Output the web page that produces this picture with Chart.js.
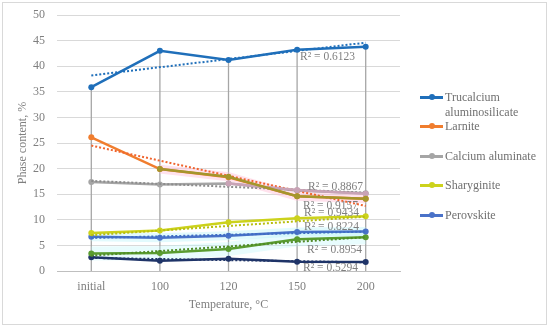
<!DOCTYPE html>
<html lang="en">

<head>
    <meta charset="UTF-8">
    <title>Phase content</title>
    <script src="https://cdn.jsdelivr.net/npm/chart.js@4.4.1/dist/chart.umd.min.js"></script>
    <style>
        body { margin: 0; background: #fff; }
        .quadro {
            position: relative;
            width: 550px;
            height: 328px;
            font-family: "Liberation Serif", serif;
        }
        .moldura {
            position: absolute;
            left: 2px; top: 2px;
            width: 543px; height: 321px;
            border: 1px solid #d9d9d9;
        }
        #grafico { position: absolute; left: 0; top: 0; }
        .legenda { position: absolute; left: 420px; top: 0; }
        .item {
            position: absolute;
            left: 0;
            width: 125px;
            display: flex;
            align-items: flex-start;
            font-size: 12px;
            line-height: 14.5px;
            color: #707070;
        }
        .marca {
            position: relative;
            flex: none;
            width: 23px; height: 14.5px;
            margin-right: 2px;
        }
        .marca .risco { position: absolute; left: 0; top: 6px; width: 23px; height: 2.5px; }
        .marca .ponto { position: absolute; left: 8.5px; top: 4px; width: 6px; height: 6px; border-radius: 50%; }
    </style>
</head>

<body>
    <div class="quadro">
        <div class="moldura"></div>
        <canvas id="grafico" width="550" height="328"></canvas>
        <div class="legenda" id="legenda"></div>
    </div>

<script>
    // valores
    const categorias = ['initial', '100', '120', '150', '200'];

    const trucalcium = [35.9, 43.0, 41.2, 43.2, 43.8];
    const larnite = [26.1, 19.9, 18.3, 14.6, 14.1];
    const calcioAluminato = [17.4, 16.9, 17.1, 15.7, 15.2];
    const sharyginite = [7.4, 7.9, 9.5, 10.3, 10.7];
    const perovskite = [6.7, 6.5, 6.9, 7.6, 7.7];
    const verde = [3.4, 3.5, 4.3, 6.2, 6.6];
    const azulEscuro = [2.7, 2.0, 2.4, 1.8, 1.75];

    // series sem legenda que ficam por cima da laranja e da cinza
    const oliva = [null, 19.9, 18.4, 14.6, 14.1];
    const rosa = [null, null, 17.1, 15.8, 15.1];

    // linhas de tendencia: valor no inicio e no fim
    const tendenciaInicio = [38.2, 24.5, 17.6, 7.0, 6.45, 3.0, 2.55];
    const tendenciaFim = [44.6, 12.7, 15.3, 10.6, 7.7, 6.6, 1.7];

    const r2Textos = ['R² = 0.6123', 'R² = 0.8867', 'R² = 0.9157', 'R² = 0.9434', 'R² = 0.8224', 'R² = 0.8954', 'R² = 0.5294'];
    const r2Altura = [41.8, 16.4, 12.7, 11.3, 8.6, 4.1, 0.6];
    const r2Desvio = [3, 11, 6, 7, 7, 10, 6];

    const eixoY = { min: 0, max: 50, passo: 5 };

    const series = [
        { nome: 'Trucalcium aluminosilicate', dados: trucalcium, cor: '#1F6FBA', legenda: true },
        { nome: 'Larnite', dados: larnite, cor: '#F07D2E', legenda: true },
        { nome: 'Calcium aluminate', dados: calcioAluminato, cor: '#A5A5A5', legenda: true },
        { nome: 'Sharyginite', dados: sharyginite, cor: '#CCD21C', legenda: true },
        { nome: 'Perovskite', dados: perovskite, cor: '#4A72C8', legenda: true },
        { nome: '', dados: verde, cor: '#5A9C30', legenda: false },
        { nome: '', dados: azulEscuro, cor: '#1F3468', legenda: false }
    ];
    const coresTendencia = ['#1F6FBA', '#F0642E', '#8C8C8C', '#B8BE10', '#3E6DC4', '#4F8A26', '#1F3468'];

    var datasets = [];

    // brilho suave (efeito do excel)
    datasets.push({ data: oliva, borderColor: 'rgba(255,190,215,0.45)', borderWidth: 9, pointRadius: 0, order: 30 });
    datasets.push({ data: perovskite, borderColor: 'rgba(190,245,250,0.45)', borderWidth: 9, pointRadius: 0, order: 30 });
    datasets.push({ data: verde, borderColor: 'rgba(190,245,250,0.35)', borderWidth: 14, pointRadius: 0, order: 30 });

    series.forEach((s, i) => {
        datasets.push({
            label: s.nome,
            data: s.dados,
            borderColor: s.cor,
            backgroundColor: s.cor,
            borderWidth: 2.5,
            pointRadius: 3,
            pointBorderWidth: 0,
            order: 10 + i
        });
        var tendencia = categorias.map(() => null);
        tendencia[0] = tendenciaInicio[i];
        tendencia[categorias.length - 1] = tendenciaFim[i];
        datasets.push({
            data: tendencia,
            borderColor: coresTendencia[i],
            borderWidth: 2,
            borderDash: [2, 2],
            pointRadius: 0,
            spanGaps: true,
            order: 5
        });
    });

    datasets.push({ data: oliva, borderColor: '#A4962C', backgroundColor: '#A4962C', borderWidth: 2.5, pointRadius: 3, pointBorderWidth: 0, order: 1 });
    datasets.push({ data: rosa, borderColor: '#C9A3B6', backgroundColor: '#C9A3B6', borderWidth: 2.5, pointRadius: 3, pointBorderWidth: 0, order: 2 });

    // linhas verticais do ponto mais alto ate o eixo
    const linhasQueda = {
        id: 'linhasQueda',
        beforeDatasetsDraw(chart) {
            const { ctx, scales: { x, y } } = chart;
            ctx.save();
            ctx.strokeStyle = '#A6A6A6';
            ctx.lineWidth = 1.3;
            categorias.forEach((c, i) => {
                const topo = Math.max(...series.map(s => s.dados[i]));
                const px = x.getPixelForValue(i);
                ctx.beginPath();
                ctx.moveTo(px, y.getPixelForValue(topo));
                ctx.lineTo(px, y.getPixelForValue(0));
                ctx.stroke();
            });
            ctx.restore();
        }
    };

    const rotulosR2 = {
        id: 'rotulosR2',
        afterDatasetsDraw(chart) {
            const { ctx, scales: { x, y } } = chart;
            ctx.save();
            ctx.font = '11.5px "Liberation Serif"';
            ctx.fillStyle = '#7F7F7F';
            ctx.textBaseline = 'middle';
            r2Textos.forEach((t, i) => {
                ctx.fillText(t, x.getPixelForValue(3) + r2Desvio[i], y.getPixelForValue(r2Altura[i]));
            });
            ctx.restore();
        }
    };

    var grafico = new Chart(document.getElementById('grafico'), {
        type: 'line',
        data: { labels: categorias, datasets: datasets },
        plugins: [linhasQueda, rotulosR2],
        options: {
            responsive: false,
            animation: false,
            layout: { padding: { left: 2, top: 15, right: 150, bottom: 15 } },
            plugins: { legend: { display: false }, tooltip: { enabled: false } },
            elements: { line: { tension: 0 } },
            scales: {
                x: {
                    offset: true,
                    grid: { display: false, drawTicks: false },
                    border: { display: true, color: '#BFBFBF', width: 1 },
                    ticks: { color: '#7F7F7F', font: { family: 'Liberation Serif', size: 12 }, padding: 9 },
                    title: { display: true, text: 'Temperature, °C', color: '#7F7F7F', font: { family: 'Liberation Serif', size: 12 }, padding: { top: 0, bottom: 1 } },
                    afterFit(scale) { scale.height = 42; }
                },
                y: {
                    min: eixoY.min,
                    max: eixoY.max,
                    grid: { color: '#D9D9D9', drawTicks: false },
                    border: { display: false },
                    ticks: { stepSize: eixoY.passo, color: '#7F7F7F', font: { family: 'Liberation Serif', size: 12 }, padding: 12 },
                    title: { display: true, text: 'Phase content, %', color: '#7F7F7F', font: { family: 'Liberation Serif', size: 12 }, padding: { top: 14, bottom: 0 } },
                    afterFit(scale) {
                        scale.width = 55;
                        scale.paddingTop = 0;
                        scale.paddingBottom = 0;
                    }
                }
            }
        }
    });

    // legenda em html (o primeiro nome quebra em duas linhas)
    const legendaTopo = [90, 119, 149, 178, 208];
    var legenda = document.getElementById('legenda');
    series.filter(s => s.legenda).forEach((s, i) => {
        var item = document.createElement('div');
        item.className = 'item';
        item.style.top = legendaTopo[i] + 'px';
        item.innerHTML = `<span class="marca"><span class="risco" style="background:${s.cor}"></span><span class="ponto" style="background:${s.cor}"></span></span><span>${s.nome}</span>`;
        legenda.appendChild(item);
    });
</script>
</body>

</html>
